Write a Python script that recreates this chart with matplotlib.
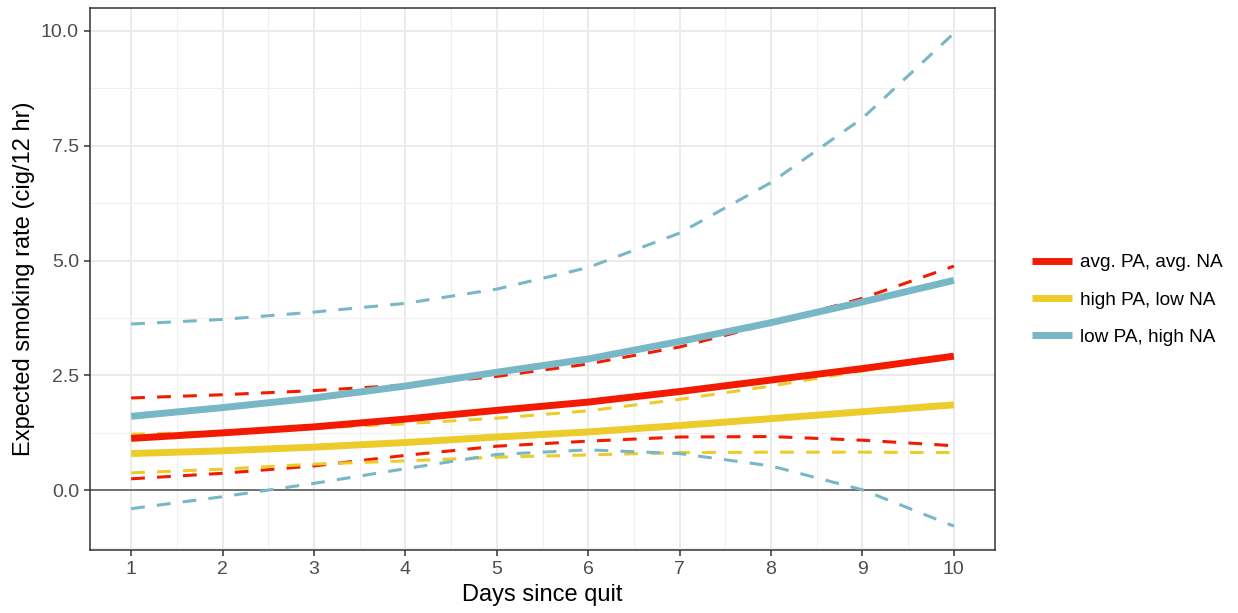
import matplotlib
matplotlib.use("Agg")
import matplotlib.pyplot as plt

plt.rcParams["font.family"] = ["Liberation Sans", "DejaVu Sans"]

days = [1, 2, 3, 4, 5, 6, 7, 8, 9, 10]
labels = ["avg. PA, avg. NA", "high PA, low NA", "low PA, high NA"]
colors = ["#F21A00", "#EBCC2A", "#78B7C5"]

# expected rate and confidence bounds for each profile
avg_fit = [1.13, 1.25, 1.38, 1.55, 1.74, 1.92, 2.15, 2.40, 2.65, 2.92]
avg_lo = [0.25, 0.37, 0.53, 0.76, 0.96, 1.07, 1.16, 1.17, 1.09, 0.97]
avg_hi = [2.01, 2.08, 2.17, 2.29, 2.48, 2.75, 3.12, 3.63, 4.18, 4.88]

high_fit = [0.80, 0.86, 0.94, 1.04, 1.16, 1.27, 1.41, 1.56, 1.71, 1.86]
high_lo = [0.38, 0.46, 0.57, 0.64, 0.72, 0.77, 0.82, 0.83, 0.83, 0.82]
high_hi = [1.22, 1.27, 1.35, 1.45, 1.57, 1.73, 1.98, 2.27, 2.60, 2.90]

low_fit = [1.61, 1.80, 2.01, 2.27, 2.57, 2.86, 3.24, 3.65, 4.10, 4.57]
low_lo = [-0.40, -0.14, 0.15, 0.47, 0.78, 0.88, 0.80, 0.53, 0.01, -0.78]
low_hi = [3.62, 3.72, 3.88, 4.07, 4.38, 4.85, 5.60, 6.70, 8.10, 9.95]

fits = [avg_fit, high_fit, low_fit]
lows = [avg_lo, high_lo, low_lo]
highs = [avg_hi, high_hi, low_hi]

fig = plt.figure(figsize=(12.38, 6.13), dpi=100)
ax = fig.add_axes([90 / 1238, 63 / 613, 905 / 1238, 542 / 613])

ax.axhline(0, color="#707070", lw=1.4, zorder=1)

handles = []
for fit, lo, hi, col, lab in zip(fits, lows, highs, colors, labels):
    ax.plot(days, lo, color=col, lw=2.2, dashes=(4.5, 4), zorder=2)
    ax.plot(days, hi, color=col, lw=2.2, dashes=(4.5, 4), zorder=2)
    h, = ax.plot(days, fit, color=col, lw=5, solid_capstyle="butt", zorder=3, label=lab)
    handles.append(h)

ax.set_xlim(0.55, 10.45)
ax.set_ylim(-1.3, 10.5)
ax.set_xticks(days)
ax.set_xticks([d + 0.5 for d in days[:-1]], minor=True)
ax.set_yticks([0, 2.5, 5, 7.5, 10])
ax.set_yticklabels(["0.0", "2.5", "5.0", "7.5", "10.0"])
ax.set_yticks([-1.25, 1.25, 3.75, 6.25, 8.75], minor=True)

ax.grid(True, which="major", color="#EBEBEB", lw=1.4, zorder=0)
ax.grid(True, which="minor", color="#F0F0F0", lw=0.8, zorder=0)
ax.set_axisbelow(True)

for sp in ax.spines.values():
    sp.set_color("#333333")
    sp.set_linewidth(1.1)

ax.tick_params(which="major", length=4, width=1.1, color="#333333",
               labelsize=14, labelcolor="#4D4D4D", pad=4)
ax.tick_params(which="minor", length=0)

ax.set_xlabel("Days since quit", fontsize=17, labelpad=4)
ax.set_ylabel("Expected smoking rate (cig/12 hr)", fontsize=17, labelpad=4)

fig.legend(handles=handles, loc="center left",
           bbox_to_anchor=(1015 / 1238, 1 - 300 / 613),
           frameon=False, fontsize=13.7, handlelength=2.1,
           handletextpad=0.4, labelspacing=1.05)

fig.savefig("out.png", dpi=100)
